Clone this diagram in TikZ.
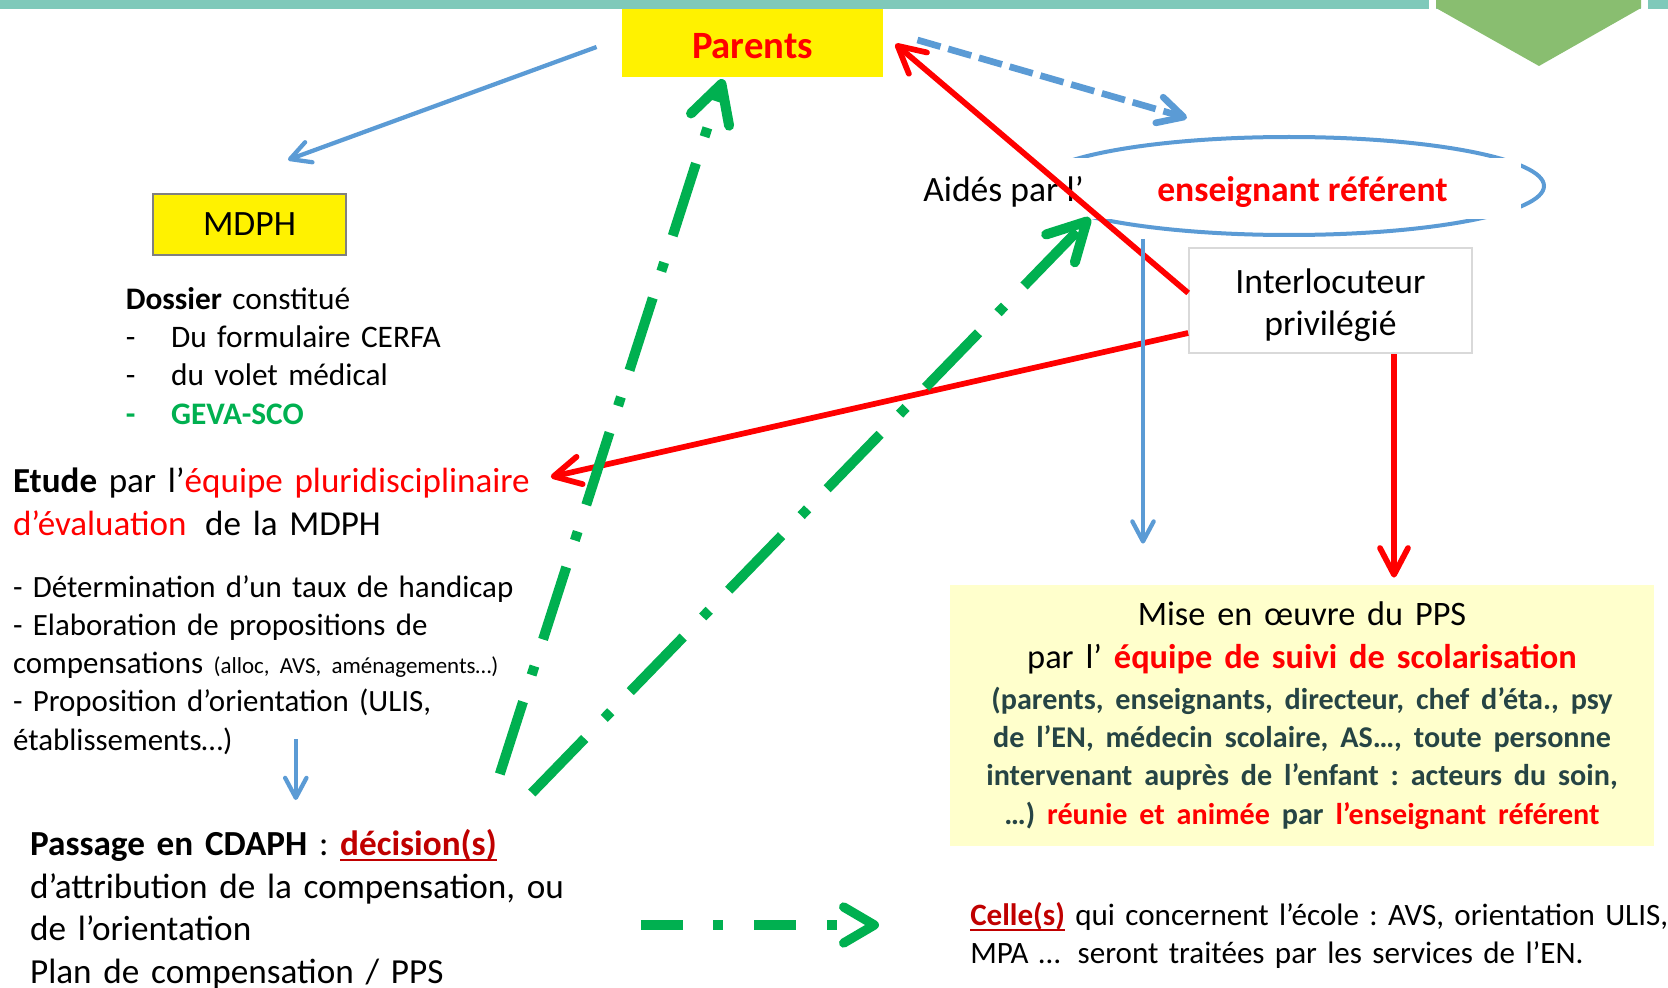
\documentclass[tikz,border=0pt]{standalone}
\usepackage{fontspec}
\setmainfont{Carlito}
\usetikzlibrary{arrows.meta,calc}
\frenchspacing

\definecolor{bandteal}{RGB}{127,201,186}
\definecolor{chevgreen}{RGB}{137,190,112}
\definecolor{arrowblue}{RGB}{91,155,213}
\definecolor{ppsgreen}{RGB}{0,176,80}
\definecolor{darkred}{RGB}{192,0,0}
\definecolor{ppsyellow}{RGB}{255,255,204}
\definecolor{slatetext}{RGB}{38,68,68}
\definecolor{boxgray}{RGB}{128,128,128}
\definecolor{framegray}{RGB}{217,217,217}

\newcommand\setfs[2]{\fontsize{#1}{#2}\selectfont}
\newcommand\ulred[1]{\setbox0\hbox{#1}\rlap{\rule[-4.5pt]{\wd0}{2pt}}\box0}

\begin{document}
\begin{tikzpicture}[x=0.75pt,y=-0.75pt,
    bluearr/.style={draw=arrowblue,line width=3.2pt,-{Straight Barb[length=15pt,width=16pt,round]}},
    bluedash/.style={draw=arrowblue,line width=5pt,dash pattern=on 18pt off 6pt,-{Straight Barb[length=19pt,width=20pt,round]}},
    redarr/.style={draw=red,line width=4.3pt,-{Straight Barb[length=20pt,width=21pt,round]}},
    greenarr/.style={draw=ppsgreen,line width=7.5pt,dash pattern=on 57pt off 21pt on 7pt off 21pt,-{Straight Barb[length=28pt,width=30pt,round]}},
    greenflat/.style={draw=ppsgreen,line width=7pt,dash pattern=on 31.5pt off 23pt on 7.5pt off 23pt,-{Straight Barb[length=23pt,width=27pt,round]}}]

        \useasboundingbox (0,0) rectangle (1668,988);

        \fill[bandteal] (0,0) rectangle (1668,9);
        \fill[white] (1429,0) rectangle (1436,10);
        \fill[white] (1641,0) rectangle (1648,10);
        \fill[chevgreen] (1436,0) -- (1641,0) -- (1641,8) -- (1539,66) -- (1436,8) -- cycle;

        \coordinate (ellref) at (1289,186);
        \draw[arrowblue,line width=3pt] (ellref) ellipse [x radius=191.25pt, y radius=36.75pt];
        \fill[white] (900,158) rectangle (1521,219);

        \begin{scope}[every node/.style={inner sep=0pt, font=\setfs{26.7}{32}}]
          \node[fill=yellow,minimum width=196pt,minimum height=51pt,text=red,font=\setfs{29}{35}\bfseries] (parents) at (752.5,43) {\rule{0pt}{23.5pt}Parents};
          \node[draw=boxgray,line width=1.5pt,fill=yellow,minimum width=145pt,minimum height=46pt] (mdph) at (249.5,224.5) {MDPH};
          \node[anchor=base west] (aide) at (923,202) {Aidés par l’};
          \node[anchor=base west,text=red,font=\setfs{26.7}{32}\bfseries] (ensref) at (1157,202) {enseignant référent};
          \node[draw=framegray,line width=1.5pt,fill=white,align=center,minimum width=212pt,minimum height=79pt,font=\setfs{26.7}{31.5}] (interloc) at (1330.5,300.5) {\rule{0pt}{25pt}Interlocuteur\\privilégié};

          \node[anchor=north west,text width=400pt,align=left,font=\setfs{23.5}{28.7}] (dossier) at (125.5,287) {\textbf{Dossier} constitué\\
            \makebox[34pt][l]{-}Du formulaire CERFA\\
            \makebox[34pt][l]{-}du volet médical\\
            {\color{ppsgreen}\bfseries\makebox[34pt][l]{-}GEVA-SCO}};
          \node[anchor=north west,text width=500pt,align=left,font=\setfs{26.3}{31.9}] (etude) at (12.8,467.5) {\textbf{Etude} par l’{\color{red}équipe pluridisciplinaire}\\
            {\color{red}d’évaluation}\hspace{14pt}de la MDPH};
          \node[anchor=north west,text width=500pt,align=left,font=\setfs{23.2}{28.7}] (liste) at (12.8,575) {- Détermination d’un taux de handicap\\
            - Elaboration de propositions de\\
            compensations {\setfs{17.2}{21}(alloc, AVS, aménagements…)}\\
            - Proposition d’orientation (ULIS,\\
            établissements…)};
          \node[anchor=north west,text width=560pt,align=left,font=\setfs{26.4}{32}] (cdaph) at (29.8,829) {\textbf{Passage en CDAPH} : {\color{darkred}\bfseries\ulred{décision(s)}}\\
            d’attribution de la compensation, ou\\
            de l’orientation\\
            Plan de compensation / PPS};
          \node[fill=ppsyellow,minimum width=528pt,minimum height=196pt,text width=515pt,align=center] (pps) at (1302,715.5) {%
            {\setfs{25.7}{32.6}Mise en œuvre du PPS\par}
            {\setfs{25.8}{32.6}par l’ {\bfseries\color{red}équipe de suivi de scolarisation}\par}
            {\setfs{22.6}{30.2}\bfseries\color{slatetext}(parents, enseignants, directeur, chef d’éta., psy\par}
            {\setfs{22.6}{28.7}\bfseries\color{slatetext}de l’EN, médecin scolaire, AS…, toute personne\par}
            {\setfs{22.6}{28.7}\bfseries\color{slatetext}intervenant auprès de l’enfant : acteurs du soin,\par}
            {\setfs{22.6}{28.9}\bfseries\color{slatetext}…) {\color{red}réunie et animée} par {\color{red}l’enseignant référent}\par}};
          \node[anchor=north west,text width=560pt,align=left,font=\setfs{23.3}{28.7}] (celle) at (970,902) {{\color{darkred}\bfseries\ulred{Celle(s)}} qui concernent l’école : AVS, orientation ULIS,\\
            MPA …\hspace{13pt}seront traitées par les services de l’EN.};
        \end{scope}

        \begin{scope}[every edge/.style={draw}]
          \path ($(parents.west)+(-25,4)$) edge[bluearr] ($(mdph.north)+(38.5,-33)$);
          \path ($(parents.east)+(34,-3)$) edge[bluedash] ($(ellref)+(-102,-68)$);
          \path ($(interloc.west)+(0,-7.5)$) edge[redarr] ($(parents.east)+(12,1)$);
          \path ($(interloc.west)+(0,32.5)$) edge[redarr] ($(etude.north west)+(538,9.5)$);
          \path ($(interloc.south)+(63.5,0)$) edge[redarr] ($(pps.north)+(92,-7)$);
          \path ($(ellref)+(-146,53)$) edge[bluearr] ($(pps.north)+(-159,-41)$);
          \path ($(liste.north west)+(283,164)$) edge[bluearr] ($(cdaph.north west)+(266,-29)$);
          \path ($(cdaph.north west)+(470,-55)$) edge[greenarr] ($(parents.south)+(-29.5,2)$);
          \path ($(cdaph.north west)+(502,-36)$) edge[greenarr] ($(ellref)+(-199,32)$);
          \path ($(cdaph.north west)+(611,96)$) edge[greenflat] ($(celle.north west)+(-91,23)$);
        \end{scope}

      \end{tikzpicture}
\end{document}
